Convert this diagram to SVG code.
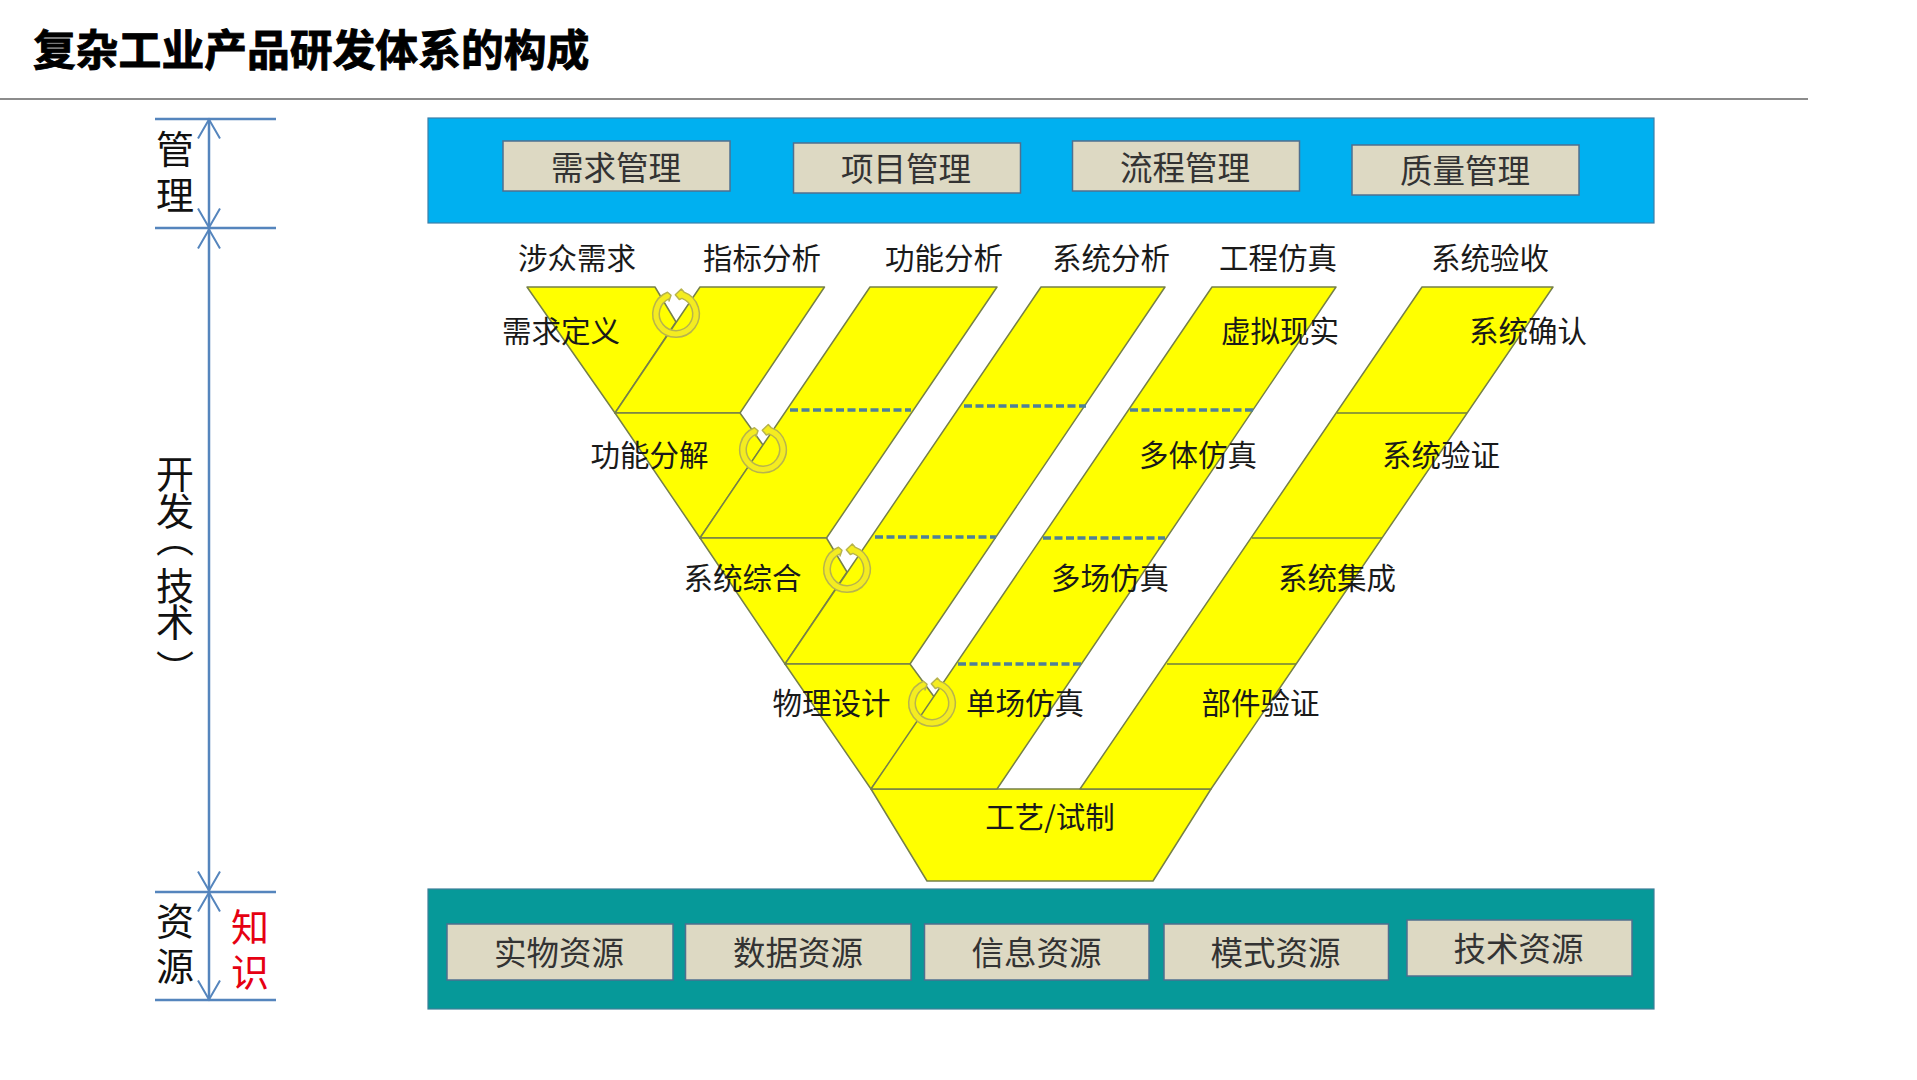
<svg xmlns="http://www.w3.org/2000/svg" width="1917" height="1080" viewBox="0 0 1917 1080">
<style>
text{font-family:"Noto Sans CJK SC","Liberation Sans",sans-serif;text-anchor:middle;dominant-baseline:central;fill:#1a1a1a}
.title{font-size:42.8px;font-weight:700;fill:#000;stroke:#000;stroke-width:.9;text-anchor:start}
.lb{font-size:29.5px}
.box{fill:#ddd9c3;stroke:#4f6f8f;stroke-width:1.5}
.bt{font-size:32.5px;fill:#333}
.side{font-size:38px;fill:#111}
.y{fill:#ff0;stroke:#768048;stroke-width:1.5;stroke-linejoin:round}
.sep{stroke:#6f7f40;stroke-width:1.5;fill:none}
.dash{stroke:#4f8098;stroke-width:3.5;stroke-dasharray:8 3.5;fill:none}
.br{stroke:#5585bd;stroke-width:2.5;fill:none}
.ring{fill:#f4ec20;stroke:#b8b44c;stroke-width:1.5;stroke-linejoin:round}
</style>
<defs>
<marker id="open" markerUnits="userSpaceOnUse" markerWidth="28" markerHeight="28" refX="24" refY="14" orient="auto-start-reverse" viewBox="0 0 28 28">
<path d="M4.5 3 L23.5 14 L4.5 25" fill="none" stroke="#5585bd" stroke-width="2"/>
</marker>
<path id="arrowring" d="M6 -15.6 A16.7 16.7 0 1 1 -6.5 -15.4 L-7 -13 L-5 -18.7 L-8.5 -21.7 A23.3 23.3 0 1 0 8 -21.9 L5.3 -25 L-.7 -19.3 L3.3 -14.5 Z"/>
</defs>
<rect width="1917" height="1080" fill="#fff"/>
<g id="header">
<text class="title" x="33" y="47">复杂工业产品研发体系的构成</text>
<line x1="0" y1="99" x2="1808" y2="99" stroke="#666" stroke-width="1.5"/>
</g>
<g id="management">
<rect x="428" y="118" width="1226" height="105" fill="#00b0f0" stroke="#3d7fa8" stroke-width="1.2"/>
<g id="m1"><rect class="box" x="503" y="141" width="227" height="50"/><text class="bt" x="616" y="165">需求管理</text></g>
<g id="m2"><rect class="box" x="793.5" y="143" width="227" height="50"/><text class="bt" x="906" y="166">项目管理</text></g>
<g id="m3"><rect class="box" x="1072.5" y="141" width="227" height="50"/><text class="bt" x="1185" y="165">流程管理</text></g>
<g id="m4"><rect class="box" x="1352" y="145" width="227" height="50"/><text class="bt" x="1465" y="168">质量管理</text></g>
</g>
<g id="resources">
<rect x="428" y="889" width="1226" height="120" fill="#069999" stroke="#3d7f98" stroke-width="1.2"/>
<g id="r1"><rect class="box" x="447" y="924" width="226" height="56"/><text class="bt" x="559" y="950.5">实物资源</text></g>
<g id="r2"><rect class="box" x="685.5" y="924" width="225.5" height="56"/><text class="bt" x="798" y="950.5">数据资源</text></g>
<g id="r3"><rect class="box" x="924.5" y="924" width="224.5" height="56"/><text class="bt" x="1036.5" y="950.5">信息资源</text></g>
<g id="r4"><rect class="box" x="1164" y="924" width="224.5" height="56"/><text class="bt" x="1275.5" y="950.5">模式资源</text></g>
<g id="r5"><rect class="box" x="1407" y="920" width="225" height="56"/><text class="bt" x="1518.5" y="946.5">技术资源</text></g>
</g>
<g id="vshape">
<polygon id="craft" class="y" points="871,789 1211,789 1153,881 927,881"/>
<polygon id="left1" class="y" points="527,287 655,287 676,322 615,413"/>
<polygon id="band2" class="y" points="700,287 824.5,287 740,413 615,413"/>
<polygon id="left2" class="y" points="615,413 740,413 763,445 700,538"/>
<polygon id="band3" class="y" points="870,287 997,287 826.5,538 700,538"/>
<polygon id="left3" class="y" points="700,538 826.5,538 847,572 785,664"/>
<polygon id="band4" class="y" points="1041,287 1165,287 910,664 785,664"/>
<polygon id="left4" class="y" points="785,664 910,664 935,698 871,789"/>
<polygon id="band5" class="y" points="1212,287 1336,287 997,789 871,789"/>
<polygon id="band6" class="y" points="1422,287 1553,287 1211,789 1080,789"/>
</g>
<g id="dividers">
<path class="dash" d="M790 410H911M964 406H1086M1130 410H1253M875 537H996M1043 538H1165M958 664H1081"/>
<path class="sep" d="M1337 413H1467M1252 538H1382M1167 664H1296"/>
</g>
<g id="rings">
<use href="#arrowring" class="ring" x="676" y="314"/>
<use href="#arrowring" class="ring" x="763" y="449.5"/>
<use href="#arrowring" class="ring" x="847" y="569"/>
<use href="#arrowring" class="ring" x="932" y="703"/>
</g>
<g id="labels">
<text class="lb" x="577" y="256">涉众需求</text>
<text class="lb" x="762" y="256">指标分析</text>
<text class="lb" x="944" y="256">功能分析</text>
<text class="lb" x="1111" y="256">系统分析</text>
<text class="lb" x="1278" y="256">工程仿真</text>
<text class="lb" x="1490" y="256">系统验收</text>
<text class="lb" x="561" y="329">需求定义</text>
<text class="lb" x="649.5" y="453">功能分解</text>
<text class="lb" x="742.5" y="576">系统综合</text>
<text class="lb" x="831.5" y="700.5">物理设计</text>
<text class="lb" x="1025" y="700.5">单场仿真</text>
<text class="lb" x="1280" y="329">虚拟现实</text>
<text class="lb" x="1198" y="453">多体仿真</text>
<text class="lb" x="1110" y="576">多场仿真</text>
<text class="lb" x="1528" y="329">系统确认</text>
<text class="lb" x="1441" y="453">系统验证</text>
<text class="lb" x="1337" y="576">系统集成</text>
<text class="lb" x="1260.5" y="700.5">部件验证</text>
<text class="lb" x="1050" y="815">工艺/试制</text>
</g>
<g id="connectors">
<path class="br" d="M155 119H276M155 228H276M155 892H276M155 1000H276"/>
<line class="br" x1="209" y1="119" x2="209" y2="228" marker-start="url(#open)" marker-end="url(#open)"/>
<line class="br" x1="209" y1="229" x2="209" y2="891" marker-start="url(#open)" marker-end="url(#open)"/>
<line class="br" x1="209" y1="892" x2="209" y2="1000" marker-start="url(#open)" marker-end="url(#open)"/>
</g>
<g id="side-labels">
<text class="side" x="175" y="146">管</text>
<text class="side" x="175" y="192">理</text>
<text class="side" x="175" y="455" style="writing-mode:vertical-rl;text-anchor:start;letter-spacing:-1.5px">开发<tspan dy="-9">（</tspan><tspan dy="10.5">技术</tspan><tspan dy="10">）</tspan></text>
<text class="side" x="175" y="918">资</text>
<text class="side" x="175" y="963.5">源</text>
<text class="side" x="250" y="924.5" style="fill:#e60012">知</text>
<text class="side" x="250" y="969.5" style="fill:#e60012">识</text>
</g>
</svg>
